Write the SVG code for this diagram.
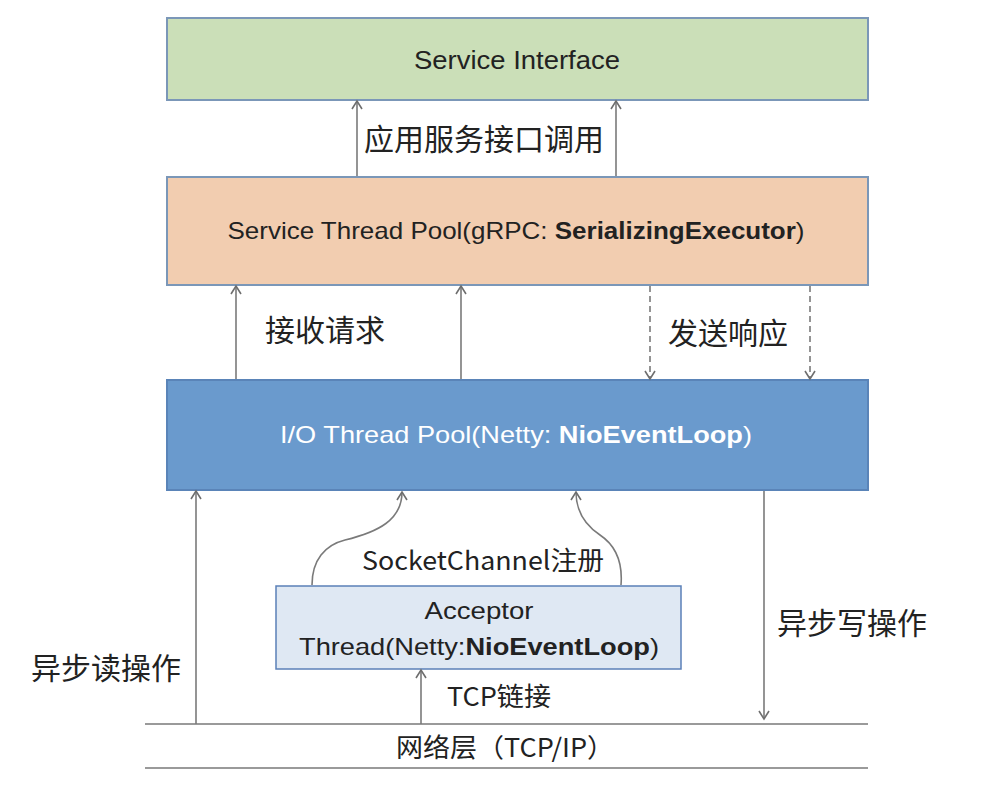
<svg xmlns="http://www.w3.org/2000/svg" width="984" height="802" viewBox="0 0 984 802">
<defs>
<marker id="ah" viewBox="0 0 12 12" refX="10" refY="6" markerWidth="12" markerHeight="12" markerUnits="userSpaceOnUse" orient="auto-start-reverse">
<path d="M2,1 L10,6 L2,11" fill="none" stroke="#6e6e6e" stroke-width="1.6"/>
</marker>
<style>
.box{stroke-width:2}
.t{font-family:"Liberation Sans","Noto Sans CJK SC",sans-serif;fill:#222;text-anchor:middle}
.c{font-family:"Noto Sans CJK SC","Liberation Sans",sans-serif;fill:#222}
.ln{stroke:#7a7a7a;stroke-width:1.6;fill:none}
.dash{stroke-dasharray:6,4}
</style>
</defs>
<rect width="984" height="802" fill="#fff"/>
<g id="service-interface">
<rect class="box" x="167" y="18" width="701" height="82" fill="#cbdfb8" stroke="#7b97b8"/>
<text class="t" x="517" y="69" font-size="25" textLength="206" lengthAdjust="spacingAndGlyphs">Service Interface</text>
</g>
<g id="service-thread-pool">
<rect class="box" x="167" y="177" width="701" height="108" fill="#f2cdb0" stroke="#7b97b8"/>
<text class="t" x="516" y="239" font-size="24" textLength="577" lengthAdjust="spacingAndGlyphs">Service Thread Pool(gRPC: <tspan font-weight="bold">SerializingExecutor</tspan>)</text>
</g>
<g id="io-thread-pool">
<rect class="box" x="167" y="380" width="701" height="110" fill="#6a9acd" stroke="#5a84b8"/>
<text class="t" x="516" y="443" font-size="24" textLength="472" lengthAdjust="spacingAndGlyphs" style="fill:#fff">I/O Thread Pool(Netty: <tspan font-weight="bold">NioEventLoop</tspan>)</text>
</g>
<g id="acceptor">
<rect x="276" y="586" width="405" height="83" fill="#dfe8f3" stroke="#5b80b8" stroke-width="1.5"/>
<text class="t" x="479" y="619" font-size="24" textLength="109" lengthAdjust="spacingAndGlyphs">Acceptor</text>
<text class="t" x="479" y="655" font-size="24" textLength="360" lengthAdjust="spacingAndGlyphs">Thread(Netty:<tspan font-weight="bold">NioEventLoop</tspan>)</text>
</g>
<g id="network">
<line x1="145" y1="724" x2="868" y2="724" stroke="#9a9a9a" stroke-width="2"/>
<line x1="145" y1="768" x2="868" y2="768" stroke="#9a9a9a" stroke-width="2"/>
<text class="c" x="505" y="757" font-size="26" text-anchor="middle" textLength="218" lengthAdjust="spacingAndGlyphs">网络层（TCP/IP）</text>
</g>
<g id="connectors">
<line class="ln" x1="357" y1="176" x2="357" y2="101" marker-end="url(#ah)"/>
<line class="ln" x1="616" y1="176" x2="616" y2="101" marker-end="url(#ah)"/>
<line class="ln" x1="236" y1="379" x2="236" y2="286" marker-end="url(#ah)"/>
<line class="ln" x1="461" y1="379" x2="461" y2="286" marker-end="url(#ah)"/>
<line class="ln dash" x1="650" y1="286" x2="650" y2="379" marker-end="url(#ah)"/>
<line class="ln dash" x1="810" y1="286" x2="810" y2="379" marker-end="url(#ah)"/>
<line class="ln" x1="196" y1="724" x2="196" y2="491" marker-end="url(#ah)"/>
<line class="ln" x1="764" y1="491" x2="764" y2="719" marker-end="url(#ah)"/>
<line class="ln" x1="421" y1="724" x2="421" y2="670" marker-end="url(#ah)"/>
<path class="ln" d="M312,585 C312,560 325,545 345,540 C378,532 402,520 402,492" marker-end="url(#ah)"/>
<path class="ln" d="M621,585 C623,560 615,545 600,535 C585,525 576,510 576,492" marker-end="url(#ah)"/>
</g>
<g id="labels">
<text class="c" x="484" y="150" font-size="30" text-anchor="middle">应用服务接口调用</text>
<text class="c" x="325" y="341" font-size="30" text-anchor="middle">接收请求</text>
<text class="c" x="728" y="344" font-size="30" text-anchor="middle">发送响应</text>
<text class="c" x="106" y="679" font-size="30" text-anchor="middle">异步读操作</text>
<text class="c" x="852" y="634" font-size="30" text-anchor="middle">异步写操作</text>
<text class="c" x="483" y="570" font-size="26" text-anchor="middle" textLength="242" lengthAdjust="spacingAndGlyphs">SocketChannel注册</text>
<text class="c" x="499" y="706" font-size="26" text-anchor="middle" textLength="104" lengthAdjust="spacingAndGlyphs">TCP链接</text>
</g>
</svg>
